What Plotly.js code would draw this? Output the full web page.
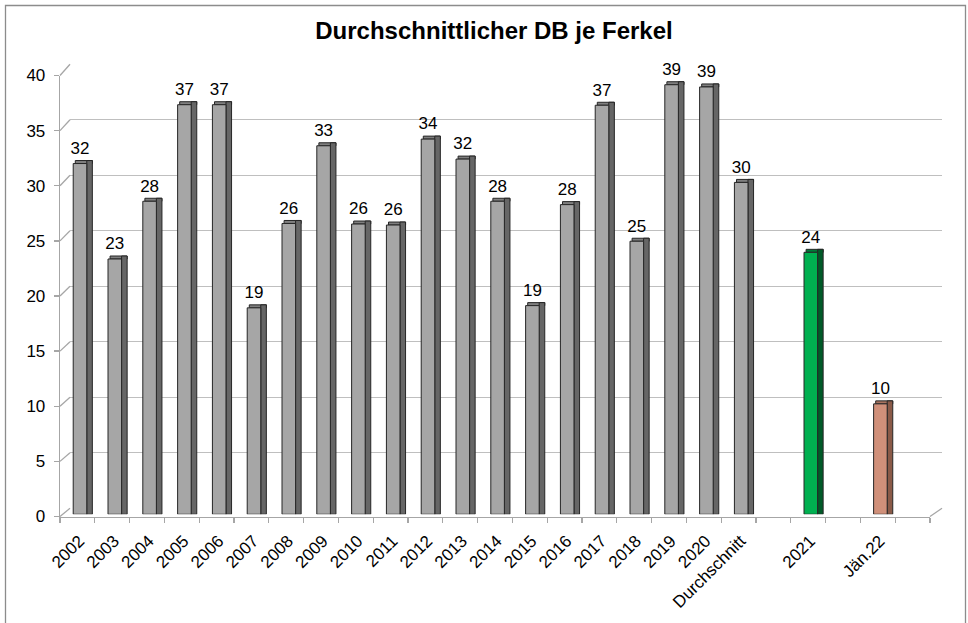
<!DOCTYPE html>
<html>
<head>
<meta charset="utf-8">
<script src="https://cdn.plot.ly/plotly-3.0.1.min.js"></script>
<style>html,body{margin:0;padding:0;background:#fff;}#chart{width:968px;height:623px;}</style>
</head>
<body>
<div id="chart"></div>
<script>
// ---- data ----
const categories = ['2002','2003','2004','2005','2006','2007','2008','2009','2010','2011','2012','2013','2014','2015','2016','2017','2018','2019','2020','Durchschnitt','','2021','','Jän.22',''];
const values = [31.6,23.0,28.2,36.9,36.9,18.6,26.2,33.2,26.15,26.06,33.8,32.0,28.2,18.8,27.9,36.85,24.6,38.7,38.5,29.9,null,23.6,null,9.95,null];
const yTicks = [0,5,10,15,20,25,30,35,40];
const titleText = 'Durchschnittlicher DB je Ferkel';

// ---- styles ----
const W = 968, H = 623;
const px = p => p / W;
const py = p => 1 - p / H;
const FONT = 'Liberation Sans, Arial, sans-serif';
const defaultCol = {front:'#A6A6A6', side:'#666666', cap:'#7F7F7F'};
const highlight = {
  '2021': {front:'#00B050', side:'#005A28', cap:'#007A38'},
  'Jän.22': {front:'#D0907A', side:'#8A5A48', cap:'#A8735F'}
};
const colOf = (c, k) => (highlight[c] || defaultCol)[k];
const idx = categories.map((c, i) => i);
const FRONT_OFF = -0.178, FRONT_W = 0.39, SIDE_W = 0.16, CAP_H = 0.27;
const lineCol = '#262626';
const axisCol = '#A6A6A6';

const traces = [
  // back grid subplot (dummy)
  {type:'scatter', x:[], y:[], xaxis:'x', yaxis:'y', hoverinfo:'skip', showlegend:false},
  // front axes subplot (dummy)
  {type:'scatter', x:[], y:[], xaxis:'x2', yaxis:'y2', hoverinfo:'skip', showlegend:false},
  // cap (top face)
  {type:'bar', x: idx, y: values.map(v => v == null ? null : CAP_H), base: values.map(v => v == null ? null : v),
   offset: FRONT_OFF + 0.06, width: FRONT_W + SIDE_W - 0.06,
   marker:{color: categories.map(c => colOf(c,'cap')), line:{color: lineCol, width: 1}},
   xaxis:'x3', yaxis:'y3', hoverinfo:'skip', showlegend:false},
  // side face
  {type:'bar', x: idx, y: values.map(v => v == null ? null : v + CAP_H),
   offset: FRONT_OFF + FRONT_W, width: SIDE_W,
   marker:{color: categories.map(c => colOf(c,'side')), line:{color: lineCol, width: 1}},
   xaxis:'x3', yaxis:'y3', hoverinfo:'skip', showlegend:false},
  // front face
  {type:'bar', x: idx, y: values,
   offset: FRONT_OFF, width: FRONT_W,
   marker:{color: categories.map(c => colOf(c,'front')), line:{color: lineCol, width: 1}},
   xaxis:'x3', yaxis:'y3', showlegend:false},
  // value labels
  {type:'scatter', mode:'markers+text', x: idx.map(i => i + FRONT_OFF + FRONT_W/2), y: values,
   marker:{size:7, opacity:0, color:'#fff'},
   text: values.map(v => v == null ? '' : String(Math.round(v))),
   textposition:'top center', textfont:{family: FONT, size: 17, color:'#000'},
   cliponaxis:false, xaxis:'x3', yaxis:'y3', hoverinfo:'skip', showlegend:false}
];

const shapes = [];
// diagonal depth lines at y ticks
yTicks.forEach(v => {
  shapes.push({type:'line', xref:'paper', yref:'paper',
    x0: px(60), y0: py(516.5 - v * 441 / 40), x1: px(70), y1: py(508.3 - v * 444 / 40),
    line:{color: axisCol, width: 1.3}});
});
// right floor diagonal
shapes.push({type:'line', xref:'paper', yref:'paper', x0: px(930), y0: py(516.5), x1: px(942), y1: py(508.3),
  line:{color: axisCol, width: 1.3}});
// outer border
shapes.push({type:'rect', xref:'paper', yref:'paper', x0: px(5.5), y0: -0.05, x1: px(965.5), y1: py(5.5),
  line:{color:'#8C8C8C', width: 1.3}, fillcolor:'rgba(0,0,0,0)'});

const layout = {
  width: W, height: H,
  margin:{l:0, r:0, t:0, b:0, pad:0},
  paper_bgcolor:'#fff', plot_bgcolor:'rgba(0,0,0,0)',
  showlegend:false, barmode:'overlay',
  font:{family: FONT, color:'#000'},
  title:{text:'<b>' + titleText + '</b>', font:{family: FONT, size: 24, color:'#000'},
    x: px(494), xanchor:'center', xref:'paper', y: py(31), yanchor:'middle', yref:'container'},
  // back grid
  xaxis:{domain:[px(70), px(942)], range:[0,1], visible:false, fixedrange:true, anchor:'y'},
  yaxis:{domain:[py(508.3), py(64.3)], range:[0,40], tickvals: yTicks, showgrid:true, gridcolor:'#BFBFBF', gridwidth:1.3,
    showticklabels:false, ticks:'', zeroline:false, showline:false, fixedrange:true, anchor:'x'},
  // front axes
  xaxis2:{domain:[px(60), px(930)], range:[-0.5, categories.length - 0.5], anchor:'y2',
    tickmode:'array', tickvals: categories.map((c,i) => i - 0.5).concat([categories.length - 0.5]),
    ticks:'outside', ticklen:5, tickcolor: axisCol, tickwidth:1.3, showticklabels:false,
    showline:true, linecolor: axisCol, linewidth:1.3, showgrid:false, zeroline:false, fixedrange:true},
  yaxis2:{domain:[py(516.5), py(75.5)], range:[0,40], anchor:'x2', tickmode:'array', tickvals: yTicks,
    ticks:'outside', ticklen:5, tickcolor: axisCol, tickwidth:1.3, showline:true, linecolor: axisCol, linewidth:1.3,
    showgrid:false, zeroline:false, tickfont:{family: FONT, size:17, color:'#000'}, ticklabelstandoff:5, fixedrange:true},
  // bars
  xaxis3:{domain:[px(62), px(932)], range:[-0.5, categories.length - 0.5], anchor:'y3',
    tickmode:'array', tickvals: idx, ticktext: categories, tickangle:-45, ticks:'outside', ticklen:9,
    tickcolor:'rgba(0,0,0,0)',
    showgrid:false, zeroline:false, showline:false, tickfont:{family: FONT, size:17, color:'#000'}, fixedrange:true},
  yaxis3:{domain:[py(514.3), py(70.3)], range:[0,40], anchor:'x3', showgrid:false, zeroline:false,
    showticklabels:false, ticks:'', showline:false, fixedrange:true},
  shapes: shapes
};

Plotly.newPlot('chart', traces, layout, {displayModeBar:false, staticPlot:true});
</script>
</body>
</html>
